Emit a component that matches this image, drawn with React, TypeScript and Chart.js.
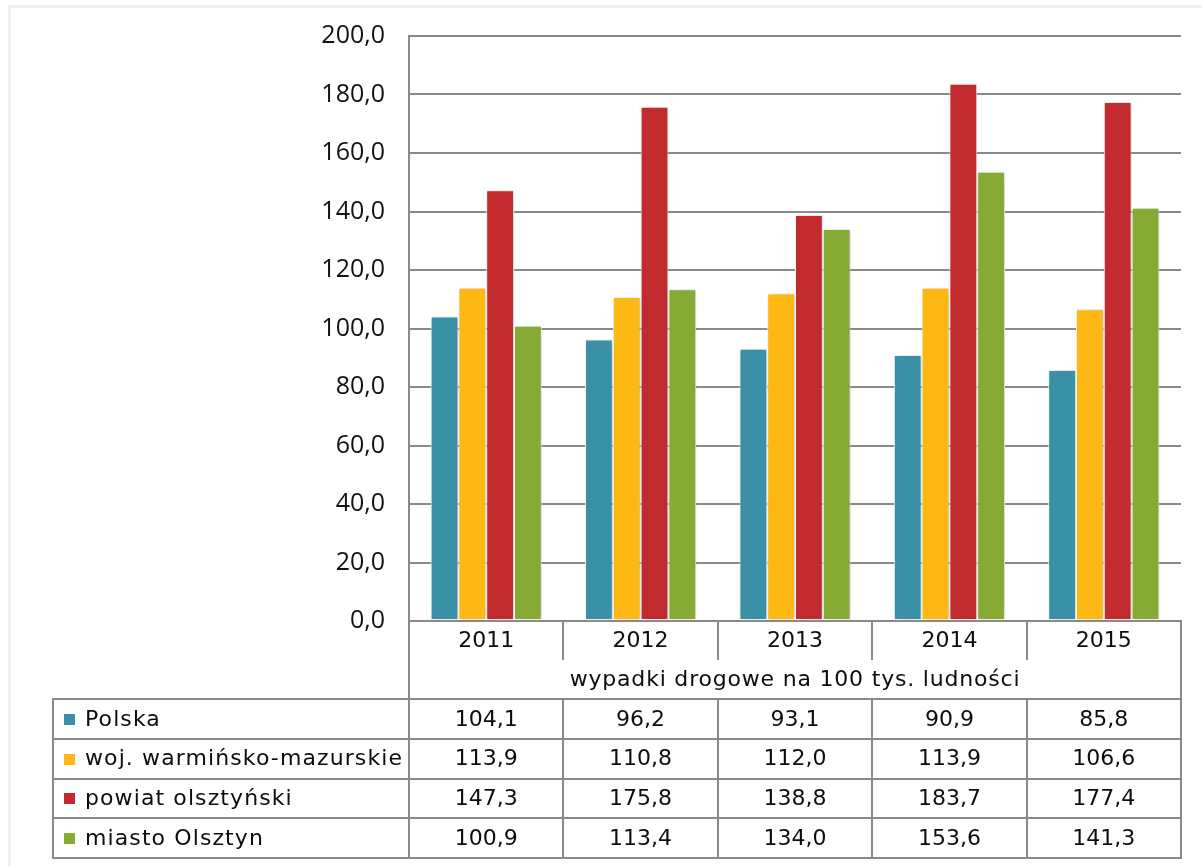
import React, { useEffect, useRef } from "react";
import { Chart, registerables } from "chart.js";

Chart.register(...registerables);

// ---- data ----
const years = ["2011", "2012", "2013", "2014", "2015"];
const seriesNames = [
  "Polska",
  "woj. warmińsko-mazurskie",
  "powiat olsztyński",
  "miasto Olsztyn",
];
const polska = [104.1, 96.2, 93.1, 90.9, 85.8];
const wojewodztwo = [113.9, 110.8, 112.0, 113.9, 106.6];
const powiat = [147.3, 175.8, 138.8, 183.7, 177.4];
const miasto = [100.9, 113.4, 134.0, 153.6, 141.3];
const tableTitle = "wypadki drogowe na 100 tys. ludności";
const yMin = 0;
const yMax = 200;
const yStep = 20;

const seriesValues = [polska, wojewodztwo, powiat, miasto];
const seriesColors = ["#3A90A6", "#FDB813", "#C22B2E", "#86AB34"];

const fmt = (v: number) => v.toFixed(1).replace(".", ",");

const LINE = "#8a8a8a";
const TABLE_FONT = '22px "DejaVu Sans"';

const shadowPlugin = {
  id: "barShadow",
  beforeDatasetsDraw(chart: any) {
    const ctx = chart.ctx;
    ctx.save();
    ctx.shadowColor = "rgba(0,0,0,0.22)";
    ctx.shadowBlur = 7;
    ctx.shadowOffsetX = 2;
    ctx.shadowOffsetY = 0;
  },
  afterDatasetsDraw(chart: any) {
    chart.ctx.restore();
  },
};

const tablePlugin = {
  id: "dataTable",
  afterDraw(chart: any) {
    const { ctx, chartArea } = chart;
    const xs = chart.scales.x;
    const left = chartArea.left;
    const right = chartArea.right;
    const bottom = chartArea.bottom;
    const n = years.length;
    const half = (right - left) / n / 2;
    const centers = years.map((_, i) => xs.getPixelForValue(i));
    const bounds = centers.map((c) => c - half);
    bounds.push(right);

    const yearRowBottom = bottom + 39;
    const tableTop = bottom + 78;
    const rowH = 39.75;
    const tableBottom = tableTop + rowH * seriesNames.length;
    const tableLeft = 53;

    ctx.save();
    ctx.strokeStyle = LINE;
    ctx.lineWidth = 2;
    const line = (x1: number, y1: number, x2: number, y2: number) => {
      ctx.beginPath();
      ctx.moveTo(x1, y1);
      ctx.lineTo(x2, y2);
      ctx.stroke();
    };
    line(left, bottom, left, tableBottom + 1);
    line(right, bottom, right, tableBottom + 1);
    for (let i = 1; i < n; i++) {
      const bx = Math.round(bounds[i]);
      line(bx, bottom, bx, yearRowBottom);
      line(bx, tableTop, bx, tableBottom);
    }
    for (let r = 0; r <= seriesNames.length; r++) {
      const yy = Math.round(tableTop + r * rowH);
      line(tableLeft - 1, yy, right + 1, yy);
    }
    line(tableLeft, tableTop, tableLeft, tableBottom + 1);

    ctx.fillStyle = "#0d0d0d";
    ctx.font = TABLE_FONT;
    ctx.textBaseline = "middle";
    ctx.textAlign = "center";
    (ctx as any).letterSpacing = "0px";
    centers.forEach((c, i) => ctx.fillText(years[i], c, bottom + 20));
    (ctx as any).letterSpacing = "0.8px";
    ctx.fillText(tableTitle, (left + right) / 2, (yearRowBottom + tableTop) / 2 + 1);

    seriesNames.forEach((name, r) => {
      const cy = tableTop + r * rowH + rowH / 2;
      ctx.fillStyle = seriesColors[r];
      ctx.fillRect(64, Math.round(cy - 5), 11, 11);
      ctx.fillStyle = "#0d0d0d";
      ctx.textAlign = "left";
      (ctx as any).letterSpacing = "1.1px";
      ctx.fillText(name, 85, cy + 1);
      (ctx as any).letterSpacing = "0px";
      ctx.textAlign = "center";
      seriesValues[r].forEach((v, i) => ctx.fillText(fmt(v), centers[i], cy + 1));
    });
    (ctx as any).letterSpacing = "0px";
    ctx.restore();
  },
};

export default function App() {
  const canvasRef = useRef<HTMLCanvasElement | null>(null);

  useEffect(() => {
    const canvas = canvasRef.current;
    if (!canvas) return;
    const chart = new Chart(canvas, {
      type: "bar",
      data: {
        labels: years,
        datasets: seriesNames.map((name, i) => ({
          label: name,
          data: seriesValues[i],
          backgroundColor: seriesColors[i],
          borderColor: "#ffffff",
          borderWidth: 1,
          borderSkipped: false as any,
          categoryPercentage: 0.72,
          barPercentage: 1,
        })),
      },
      options: {
        responsive: false,
        animation: false,
        devicePixelRatio: 1,
        layout: { padding: { top: 36, right: 21, bottom: 0, left: 0 } },
        plugins: {
          legend: { display: false },
          tooltip: { enabled: false },
          title: { display: false },
        },
        scales: {
          x: {
            grid: { display: false },
            border: { display: true, color: LINE, width: 2 },
            ticks: { display: false },
            afterFit: (s: any) => {
              s.height = 245;
            },
          },
          y: {
            min: yMin,
            max: yMax,
            ticks: {
              stepSize: yStep,
              padding: 24,
              color: "#111",
              font: { family: '"Open Sans"', size: 25 },
              callback: (v: any) => fmt(Number(v)),
            },
            grid: { color: LINE, lineWidth: 2, drawTicks: false },
            border: { display: true, color: LINE, width: 2 },
            afterFit: (s: any) => {
              s.width = 409;
              s.paddingTop = 0;
              s.paddingBottom = 0;
            },
          },
        },
      },
      plugins: [shadowPlugin, tablePlugin],
    });
    return () => chart.destroy();
  }, []);

  return (
    <div
      style={{
        position: "absolute",
        left: 0,
        top: 0,
        width: 1202,
        height: 866,
        background: "#fff",
        overflow: "hidden",
      }}
    >
      <div
        style={{
          position: "absolute",
          left: 8,
          top: 5,
          width: 1300,
          height: 1000,
          borderTop: "3px solid #f0f0f0",
          borderLeft: "3px solid #f0f0f0",
        }}
      />
      <canvas
        ref={canvasRef}
        width={1202}
        height={866}
        style={{ position: "absolute", left: 0, top: 0, width: 1202, height: 866 }}
      />
    </div>
  );
}
